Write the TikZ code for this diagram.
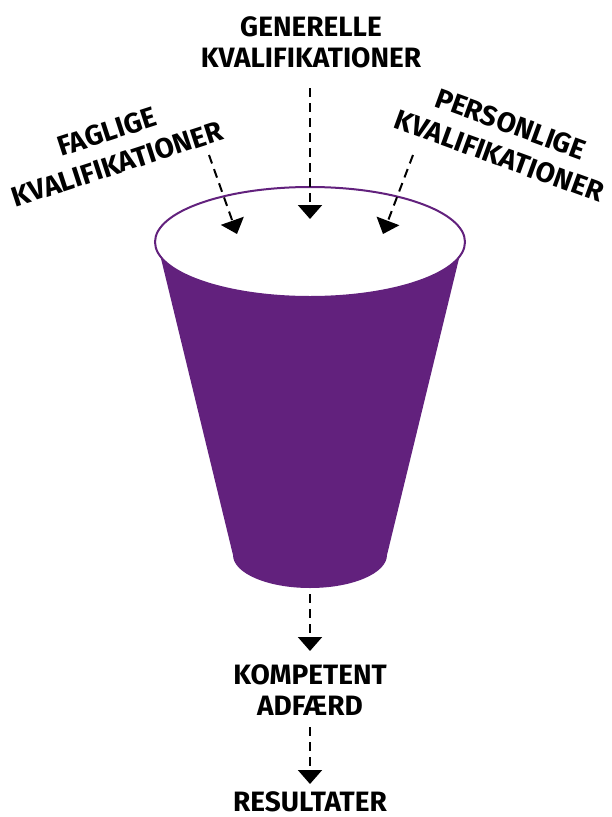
\documentclass[tikz,border=0pt]{standalone}
\usepackage{fontspec}
\setmainfont{Fira Sans}
\usetikzlibrary{arrows.meta}
\definecolor{cuppurple}{RGB}{98,33,125}
\tikzset{
  lbl/.style={font=\bfseries\fontsize{28}{31}\selectfont, align=center, inner sep=0pt, text=black},
  rlbl/.style={lbl, font=\bfseries\fontsize{28}{34}\selectfont},
  flow/.style={draw=black, line width=2pt, dash pattern=on 9pt off 6pt, -{Triangle[width=24pt,length=14pt]}}
}
\begin{document}
\begin{tikzpicture}[x=1pt,y=-1pt]
\useasboundingbox (0,0) rectangle (612,817);
% cup body
\fill[cuppurple] (157,242) -- (233,555) arc[start angle=180, end angle=0, x radius=77, y radius=33] -- (463,242) -- cycle;
\filldraw[fill=white, draw=cuppurple, line width=2pt] (310,242) ellipse[x radius=155, y radius=55];
% labels
\node[lbl] (gen) at (311,42) {GENERELLE\\KVALIFIKATIONER};
\node[rlbl, rotate=18] (fag) at (112,148) {FAGLIGE\\KVALIFIKATIONER};
\node[rlbl, rotate=-20] (per) at (505,140) {PERSONLIGE\\KVALIFIKATIONER};
\node[lbl] (komp) at (310,690) {KOMPETENT\\ADFÆRD};
\node[lbl] (res) at (310,802) {RESULTATER};
% arrow endpoints
\coordinate (g1) at (310,88);  \coordinate (g2) at (310,219);
\coordinate (f1) at (209,155); \coordinate (f2) at (237,234);
\coordinate (p1) at (413,155); \coordinate (p2) at (383,234);
\coordinate (b1) at (310,594); \coordinate (b2) at (310,651);
\coordinate (c1) at (310,727); \coordinate (c2) at (310,784);
\draw[flow] (g1) -- (g2);
\draw[flow] (f1) -- (f2);
\draw[flow] (p1) -- (p2);
\draw[flow] (b1) -- (b2);
\draw[flow] (c1) -- (c2);
\end{tikzpicture}
\end{document}
